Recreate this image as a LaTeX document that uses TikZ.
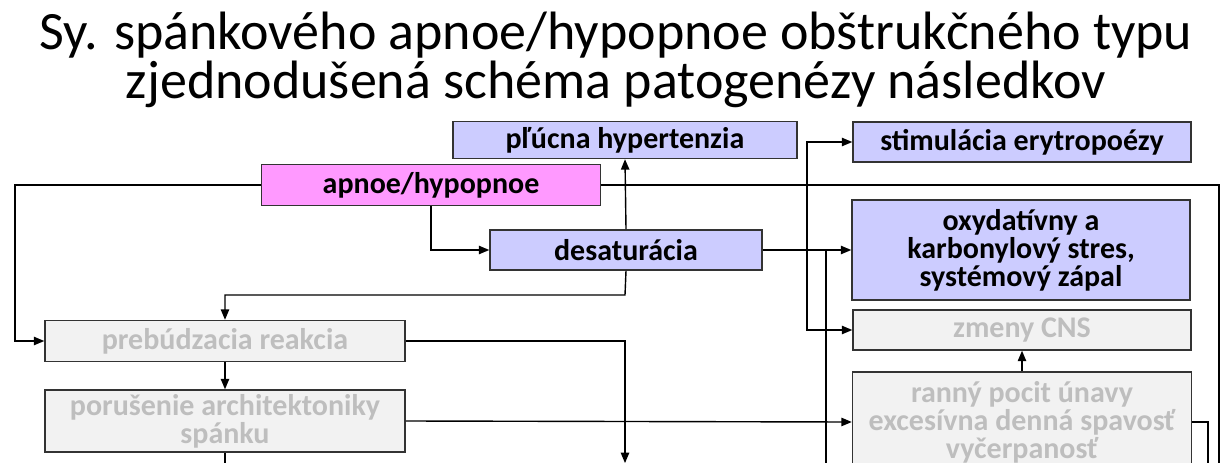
\documentclass[tikz,border=0pt]{standalone}
\usepackage{fontspec}
\setmainfont{Carlito}
\usetikzlibrary{arrows,positioning}
\definecolor{boxblue}{RGB}{204,204,255}
\definecolor{boxpink}{RGB}{255,153,255}
\definecolor{boxgray}{RGB}{242,242,242}
\definecolor{txtgray}{RGB}{190,190,190}
\begin{document}
\begin{tikzpicture}
	[x=1pt,y=-1pt]
	\tikzstyle{box}=[rectangle,draw=black!80,line width=1.6pt,font=\fontsize{30}{28}\selectfont\bfseries,align=center,inner sep=0pt]
	\tikzstyle{hot}=[box,fill=boxblue]
	\tikzstyle{root}=[box,fill=boxpink]
	\tikzstyle{dim}=[box,fill=boxgray,text=txtgray]
	\tikzstyle{link}=[line width=1.4pt,-triangle 45]
	\useasboundingbox (0,0) rectangle (1232,463);
	\clip (0,0) rectangle (1232,463);
	\node (title) at (616,60) [align=center,font=\fontsize{54}{49}\selectfont]{Sy. spánkového apnoe/hypopnoe obštrukčného typu\\zjednodušená schéma patogenézy následkov};
	\node [hot,minimum width=344pt,minimum height=37pt](plucna) at (625,140){pľúcna hypertenzia};
	\node [root,minimum width=339pt,minimum height=41pt](apnoe) at (431,185){apnoe/hypopnoe};
	\node [hot,minimum width=272pt,minimum height=40pt](desat) at (626,250){desaturácia};
	\node [hot,minimum width=338pt,minimum height=40pt](erytro) at (1022,142){stimulácia erytropoézy};
	\node [hot,minimum width=338pt,minimum height=100pt](stres) at (1021,250){oxydatívny a\\karbonylový stres,\\systémový zápal};
	\node [dim,minimum width=338pt,minimum height=40pt](cns) at (1022,330){zmeny CNS};
	\node [dim,minimum width=339pt,minimum height=100pt](unava) at (1022,422){ranný pocit únavy\\excesívna denná spavosť\\vyčerpanosť};
	\node [dim,minimum width=360pt,minimum height=41pt](prebud) at (225,341){prebúdzacia reakcia};
	\node [dim,minimum width=360pt,minimum height=62pt](arch) at (225,421){porušenie architektoniky\\spánku};
	\coordinate (out1) at (1219,480);
	\coordinate (out2) at (826,480);
	\coordinate (out3) at (625,463);
	\coordinate (out4) at (1208,480);
	\coordinate (out5) at (225,480);
	% apnoe
	\draw[link] (apnoe.west) -| (15,341) -- (prebud.west);
	\draw[link] (apnoe.south) |- (desat.west);
	\draw[line width=1.4pt] (apnoe.east) -| (out1);
	% desaturacia
	\draw[link] (desat.north) -- (plucna.south);
	\draw[link] (desat.south) -- (625,295) -| (prebud.north);
	\draw[link] (desat.east) -- (stres.west);
	\draw[link] (desat.east) -- (807,250) |- (erytro.west);
	\draw[link] (807,250) |- (cns.west);
	\draw[line width=1.4pt] (826,250) -- (out2);
	% spanok
	\draw[link] (prebud.east) -| (out3);
	\draw[link] (prebud.south) -- (arch.north);
	\draw[link] (arch.east) -- (unava.west);
	\draw[line width=1.4pt] (arch.south) -- (out5);
	\draw[link] (unava.north) -- (cns.south);
	\draw[line width=1.4pt] (unava.east) -| (out4);
\end{tikzpicture}
\end{document}
